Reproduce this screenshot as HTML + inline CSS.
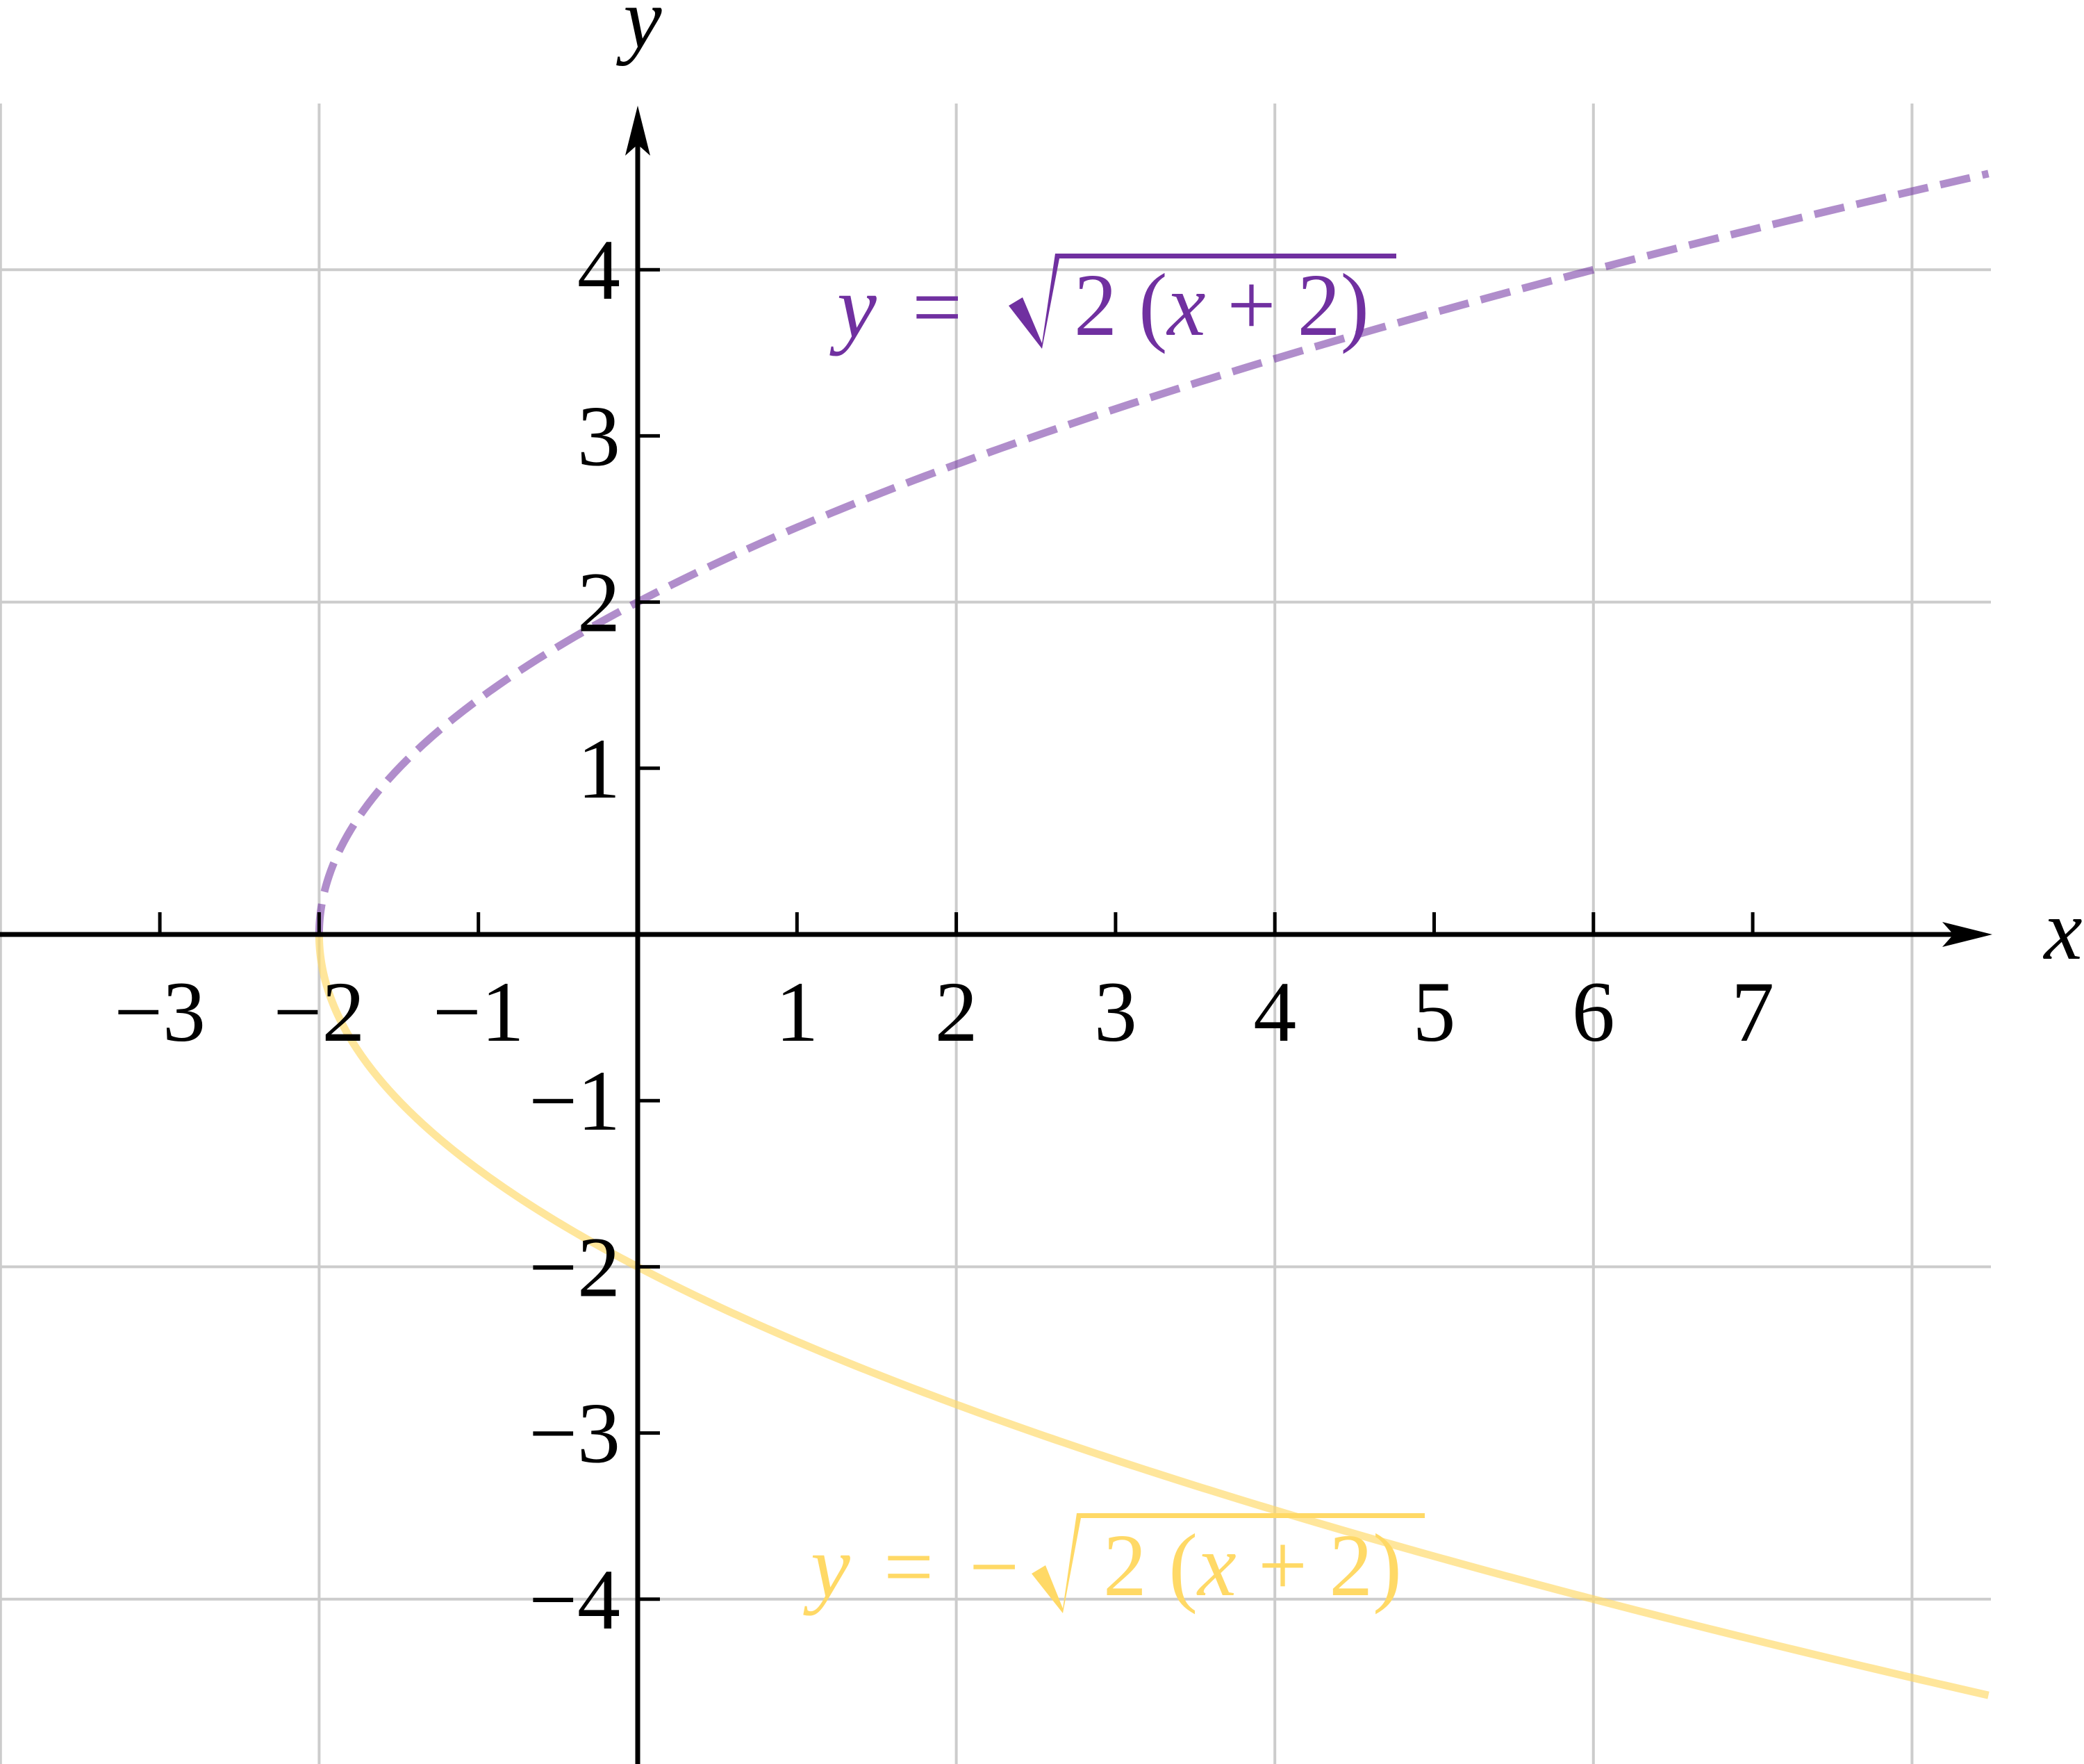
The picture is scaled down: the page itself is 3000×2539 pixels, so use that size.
<!DOCTYPE html>
<html><head><meta charset="utf-8"><style>html,body{margin:0;padding:0;background:#fff}svg{display:block}</style></head>
<body>
<svg id="chart" width="3000" height="2539" viewBox="0 0 3000 2539" xmlns="http://www.w3.org/2000/svg" font-family="'Liberation Serif', serif">
<g id="grid"></g>
<g id="curves"></g>
<g id="axes"></g>
<g id="labels"></g>
</svg>
<script>
const xTicks = [-3,-2,-1,1,2,3,4,5,6,7];
const yTicks = [-4,-3,-2,-1,1,2,3,4];
const xGrid = [-4,-2,2,4,6,8];
const yGrid = [-4,-2,2,4];
const curveCoef = 2;
const curveShift = 2;
const xDomain = [-2, 8.48];

const NS='http://www.w3.org/2000/svg';
const X0=918, XU=229.3, Y0=1345, YU=239.2, TOP=149, RIGHT=2866;
const sx=v=>X0+v*XU, sy=v=>Y0-v*YU;
function mk(tag,attrs,parent){const e=document.createElementNS(NS,tag);for(const k in attrs)e.setAttribute(k,attrs[k]);parent.appendChild(e);return e;}
const grid=document.getElementById('grid'),curves=document.getElementById('curves'),axes=document.getElementById('axes'),labels=document.getElementById('labels');

xGrid.forEach(v=>{const l=mk('line',{x1:sx(v),x2:sx(v),y1:TOP,y2:2539,stroke:'#cccccc','stroke-width':4},grid);

});
yGrid.forEach(v=>{const l=mk('line',{x1:0,x2:RIGHT,y1:sy(v),y2:sy(v),stroke:'#cccccc','stroke-width':4},grid);

});

function curvePath(sign){let d='';const n=400;for(let i=0;i<=n;i++){const t=i/n;const x=xDomain[0]+(xDomain[1]-xDomain[0])*t*t;const y=sign*Math.sqrt(Math.max(0,curveCoef*(x+curveShift)));d+=(i?'L':'M')+sx(x).toFixed(2)+' '+sy(y).toFixed(2);}return d;}
const lower=mk('path',{d:curvePath(-1),fill:'none',stroke:'#ffd966','stroke-opacity':0.65,'stroke-width':11},curves);


const upper=mk('path',{d:curvePath(1),fill:'none',stroke:'#7030a0','stroke-opacity':0.55,'stroke-width':11,'stroke-dasharray':'44 18'},curves);



const xa=mk('line',{x1:0,x2:2830,y1:Y0,y2:Y0,stroke:'#000','stroke-width':7},axes);


const xh=mk('path',{d:`M2868 ${Y0} L2796 ${Y0-18} L2812 ${Y0} L2796 ${Y0+18} Z`,fill:'#000'},axes);


const ya=mk('line',{x1:X0,x2:X0,y1:2539,y2:190,stroke:'#000','stroke-width':7},axes);


const yh=mk('path',{d:`M${X0} 152 L${X0-18} 224 L${X0} 208 L${X0+18} 224 Z`,fill:'#000'},axes);



xTicks.forEach(v=>{const t=mk('line',{x1:sx(v),x2:sx(v),y1:Y0,y2:Y0-32,stroke:'#000','stroke-width':5},axes);


const tx=mk('text',{x:sx(v),y:1498,'font-size':124,'text-anchor':'middle',fill:'#000'},labels);
tx.textContent=v<0?'\u2212'+Math.abs(v):String(v);

});
yTicks.forEach(v=>{const t=mk('line',{x1:X0,x2:X0+32,y1:sy(v),y2:sy(v),stroke:'#000','stroke-width':5},axes);


const tx=mk('text',{x:893,y:sy(v)+42,'font-size':124,'text-anchor':'end',fill:'#000'},labels);
tx.textContent=v<0?'\u2212'+Math.abs(v):String(v);

});
</script>
<svg style="position:absolute;left:0;top:0" width="3000" height="2539" viewBox="0 0 3000 2539" font-family="'Liberation Serif', serif">
<text x="925" y="68" font-size="124" font-style="italic" text-anchor="middle">y</text>
<text x="2970" y="1380" font-size="124" font-style="italic" text-anchor="middle">x</text>
<g fill="#7030a0">
<text x="1205" y="485" font-size="128" font-style="italic">y</text>
<text x="1313" y="485" font-size="128">=</text>
<path d="M1452 440 L1472 428 L1500 494 L1519 365 L2010 365 L2010 372 L1525 372 L1500 502 Z"/>
<text x="1546" y="482" font-size="128" textLength="425" lengthAdjust="spacingAndGlyphs">2 (<tspan font-style="italic">x</tspan> + 2)</text>
</g>
<g fill="#ffd966">
<text x="1167" y="2298" font-size="128" font-style="italic">y</text>
<text x="1272" y="2298" font-size="128">=</text>
<text x="1395" y="2298" font-size="128">−</text>
<path d="M1485 2265 L1505 2253 L1530 2315 L1550 2178 L2051 2178 L2051 2185 L1556 2185 L1530 2322 Z"/>
<text x="1588" y="2296" font-size="128" textLength="430" lengthAdjust="spacingAndGlyphs">2 (<tspan font-style="italic">x</tspan> + 2)</text>
</g>
</svg>
</body></html>
